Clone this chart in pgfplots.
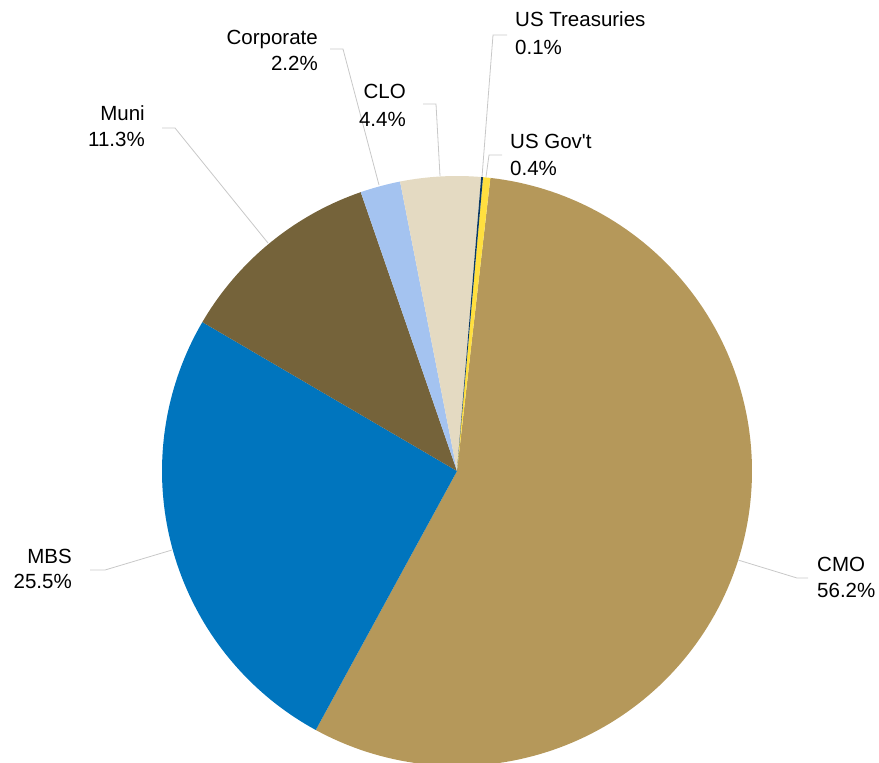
\documentclass[border=0pt]{standalone}
\usepackage{pgfplots}
\pgfplotsset{compat=1.18}
\usepackage{fontspec}
\setmainfont{Liberation Sans}
\definecolor{cTre}{HTML}{0B3A63}
\definecolor{cGov}{HTML}{FFDF3F}
\definecolor{cCMO}{HTML}{B5985A}
\definecolor{cMBS}{HTML}{0075BE}
\definecolor{cMuni}{HTML}{75633A}
\definecolor{cCorp}{HTML}{A4C3F0}
\definecolor{cCLO}{HTML}{E4DAC2}
\definecolor{lead}{HTML}{C8C8C8}
\newcommand{\lblfont}{\fontsize{20.5bp}{24bp}\selectfont}
\tikzset{lbl/.style={inner sep=0pt, font=\lblfont}}
% shares (percent)
\def\pTre{0.1}\def\pGov{0.4}\def\pCMO{56.2}\def\pMBS{25.5}\def\pMuni{11.3}\def\pCorp{2.2}\def\pCLO{4.4}
\pgfmathsetmacro{\tot}{\pTre+\pGov+\pCMO+\pMBS+\pMuni+\pCorp+\pCLO}
\pgfmathsetmacro{\aA}{85.3}
\pgfmathsetmacro{\aB}{\aA-\pTre/\tot*360}
\pgfmathsetmacro{\aC}{\aB-\pGov/\tot*360}
\pgfmathsetmacro{\aD}{\aC-\pCMO/\tot*360}
\pgfmathsetmacro{\aE}{\aD-\pMBS/\tot*360}
\pgfmathsetmacro{\aF}{\aE-\pMuni/\tot*360}
\pgfmathsetmacro{\aG}{\aF-\pCorp/\tot*360}
\pgfmathsetmacro{\aH}{\aG-\pCLO/\tot*360}
\def\cx{457}\def\cy{471}\def\rr{295}
\begin{document}
\begin{tikzpicture}
\begin{axis}[scale only axis, width=879bp, height=763bp,
  xmin=0, xmax=879, ymin=0, ymax=763, y dir=reverse, hide axis]
\path (axis cs:0,0) rectangle (axis cs:879,763);
\addplot[fill=cCMO, draw=none, domain=\aD:\aC, samples=150] ({\cx+\rr*cos(x)},{\cy-\rr*sin(x)}) -- (axis cs:\cx,\cy) -- cycle;
\addplot[fill=cMBS, draw=none, domain=\aE:\aD, samples=80] ({\cx+\rr*cos(x)},{\cy-\rr*sin(x)}) -- (axis cs:\cx,\cy) -- cycle;
\addplot[fill=cMuni, draw=none, domain=\aF:\aE, samples=40] ({\cx+\rr*cos(x)},{\cy-\rr*sin(x)}) -- (axis cs:\cx,\cy) -- cycle;
\addplot[fill=cCorp, draw=none, domain=\aG:\aF, samples=10] ({\cx+\rr*cos(x)},{\cy-\rr*sin(x)}) -- (axis cs:\cx,\cy) -- cycle;
\addplot[fill=cCLO, draw=none, domain=\aH:\aG, samples=15] ({\cx+\rr*cos(x)},{\cy-\rr*sin(x)}) -- (axis cs:\cx,\cy) -- cycle;
\addplot[fill=cGov, draw=none, domain=\aC:\aB, samples=4] ({\cx+\rr*cos(x)},{\cy-\rr*sin(x)}) -- (axis cs:\cx,\cy) -- cycle;
\addplot[fill=cTre, draw=none, domain=\aB:\aA, samples=3] ({\cx+\rr*cos(x)},{\cy-\rr*sin(x)}) -- (axis cs:\cx,\cy) -- cycle;
% leader lines
\addplot[lead, line width=0.8bp, no marks] coordinates {(738,560) (797,578) (808,578)};
\addplot[lead, line width=0.8bp, no marks] coordinates {(172,550) (105,570) (90,570)};
\addplot[lead, line width=0.8bp, no marks] coordinates {(268,243) (175,128) (162,128)};
\addplot[lead, line width=0.8bp, no marks] coordinates {(440,176) (436,104) (423,104)};
\addplot[lead, line width=0.8bp, no marks] coordinates {(379,185) (343,49) (330,49)};
\addplot[lead, line width=0.8bp, no marks] coordinates {(486,177) (489,155) (502,155)};
\addplot[lead, line width=0.8bp, no marks] coordinates {(482,177) (493,35) (507,35)};
% labels
\node[lbl, anchor=base west] at (axis cs:515,27) {US Treasuries};
\node[lbl, anchor=base west] at (axis cs:515,55) {0.1\%};
\node[lbl, anchor=base west] at (axis cs:510,149) {US Gov\textquotesingle t};
\node[lbl, anchor=base west] at (axis cs:510,176) {0.4\%};
\node[lbl, anchor=base east] at (axis cs:406,99) {CLO};
\node[lbl, anchor=base east] at (axis cs:406,127) {4.4\%};
\node[lbl, anchor=base east] at (axis cs:318,45) {Corporate};
\node[lbl, anchor=base east] at (axis cs:318,71) {2.2\%};
\node[lbl, anchor=base east] at (axis cs:145,121) {Muni};
\node[lbl, anchor=base east] at (axis cs:145,147) {11.3\%};
\node[lbl, anchor=base east] at (axis cs:72,563) {MBS};
\node[lbl, anchor=base east] at (axis cs:72,588) {25.5\%};
\node[lbl, anchor=base west] at (axis cs:817,571) {CMO};
\node[lbl, anchor=base west] at (axis cs:817,597) {56.2\%};
\end{axis}
\end{tikzpicture}
\end{document}
